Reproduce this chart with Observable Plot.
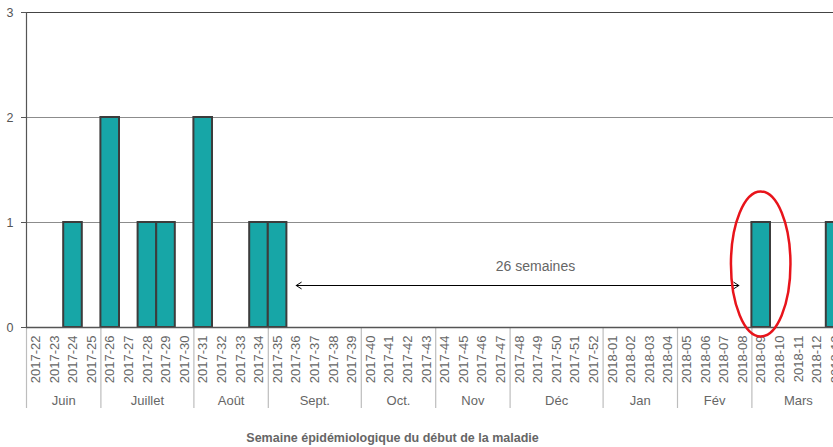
<!DOCTYPE html>
<html>
<head>
<meta charset="utf-8">
<script src="https://cdn.jsdelivr.net/npm/d3@7"></script>
<script src="https://cdn.jsdelivr.net/npm/@observablehq/plot@0.6"></script>
<style>
  html, body { margin: 0; padding: 0; background: #fff; overflow: hidden; width: 833px; height: 447px; }
  #chart svg { display: block; max-width: none !important; }
</style>
</head>
<body>
<div id="chart"></div>
<script>
const weeks = [
  "2017-22","2017-23","2017-24","2017-25","2017-26","2017-27","2017-28","2017-29","2017-30",
  "2017-31","2017-32","2017-33","2017-34","2017-35","2017-36","2017-37","2017-38","2017-39",
  "2017-40","2017-41","2017-42","2017-43","2017-44","2017-45","2017-46","2017-47","2017-48",
  "2017-49","2017-50","2017-51","2017-52","2018-01","2018-02","2018-03","2018-04","2018-05",
  "2018-06","2018-07","2018-08","2018-09","2018-10","2018-11","2018-12","2018-13"
];
const cases = [
  0,0,1,0,2,0,1,1,0,
  2,0,0,1,1,0,0,0,0,
  0,0,0,0,0,0,0,0,0,
  0,0,0,0,0,0,0,0,0,
  0,0,0,1,0,0,0,1
];
const months = ["Juin","Juillet","Août","Sept.","Oct.","Nov","Déc","Jan","Fév","Mars"];
const monthWeekCounts = [4,5,4,5,4,4,5,4,4,5];
const yTicks = [0,1,2,3];
const gapLabel = "26 semaines";
const gapFrom = "2017-36", gapTo = "2018-08";
const highlightWeek = "2018-09";
const xTitle = "Semaine épidémiologique du début de la maladie";

(function () {
const weekData = weeks.map((w, i) => ({week: w, i, cases: cases[i]}));
const bars = weekData.filter(d => d.cases > 0);

let acc = 0;
const monthData = months.map((m, k) => {
  const start = acc; acc += monthWeekCounts[k];
  return {month: m, start, end: acc, mid: (start + acc) / 2};
});

const step = 18.6, mLeft = 26, mTop = 12, baseY = 327;
const unitPx = (baseY - mTop) / 3;
const px2y = (p) => -p / unitPx;
const gi0 = weeks.indexOf(gapFrom) + 0.5, gi1 = weeks.indexOf(gapTo) + 0.3;
const gmid = (gi0 + gi1) / 2;
const arrowY = 42 / unitPx;

const font = "'Liberation Sans', Arial, sans-serif";

const plot = Plot.plot({
  width: 845,
  height: 447,
  marginLeft: mLeft,
  marginRight: 0,
  marginTop: mTop,
  marginBottom: 447 - baseY,
  style: {fontFamily: font, background: "#fff", maxWidth: "none"},
  x: {domain: [0, weeks.length], range: [mLeft, mLeft + weeks.length * step], axis: null, label: null},
  y: {domain: [0, 3], range: [baseY, mTop], axis: null, label: null},
  marks: [
    Plot.ruleY([1, 2], {stroke: "#8c8c8c", strokeWidth: 1}),
    Plot.ruleY([3], {stroke: "#444", strokeWidth: 1.2}),
    Plot.rectY(bars, {x1: "i", x2: d => d.i + 1, y: "cases", fill: "#17a6a7", stroke: "#3c3c3c", strokeWidth: 2}),
    Plot.ruleX(monthData, {x: "start", y1: 0, y2: px2y(81), stroke: "#bdbdbd", strokeWidth: 1.2}),
    Plot.ruleX([0], {y1: 0, y2: 3, stroke: "#555", strokeWidth: 1.2}),
    Plot.ruleY([0], {stroke: "#555", strokeWidth: 1.5}),
    Plot.axisY({ticks: yTicks, tickFormat: "d", tickSize: 5, tickPadding: 8, fontSize: 12.5, color: "#555", stroke: "#555", anchor: "left", label: null}),
    Plot.text(weekData, {x: d => d.i + 0.5, y: 0, dy: 8, text: "week", rotate: -90, textAnchor: "end", fontSize: 13, fill: "#666"}),
    Plot.text(monthData, {x: "mid", y: 0, dy: 73, text: "month", fontSize: 13, fill: "#666"}),
    Plot.arrow([{x1: gmid, x2: gi0}, {x1: gmid, x2: gi1}], {x1: "x1", x2: "x2", y1: arrowY, y2: arrowY, stroke: "#000", strokeWidth: 1, headLength: 9, headAngle: 65}),
    Plot.text([gapLabel], {x: (535 - mLeft) / step, y: arrowY, dy: -19, text: d => d, fontSize: 14, fill: "#666"}),
    Plot.text([xTitle], {x: (392 - mLeft) / step, y: 0, dy: 110, text: d => d, fontSize: 12.5, fontWeight: "bold", fill: "#666"})
  ]
});

const xs = plot.scale("x"), ys = plot.scale("y");
const hi = weeks.indexOf(highlightWeek);
d3.select(plot).append("ellipse")
  .attr("cx", xs.apply(hi + 0.5)).attr("cy", ys.apply(0.6))
  .attr("rx", xs.apply(hi + 2.1) - xs.apply(hi + 0.5))
  .attr("ry", ys.apply(0) - ys.apply(0.69))
  .attr("fill", "none").attr("stroke", "#e8141b").attr("stroke-width", 2.5);

document.getElementById("chart").append(plot);
})();
</script>
</body>
</html>
